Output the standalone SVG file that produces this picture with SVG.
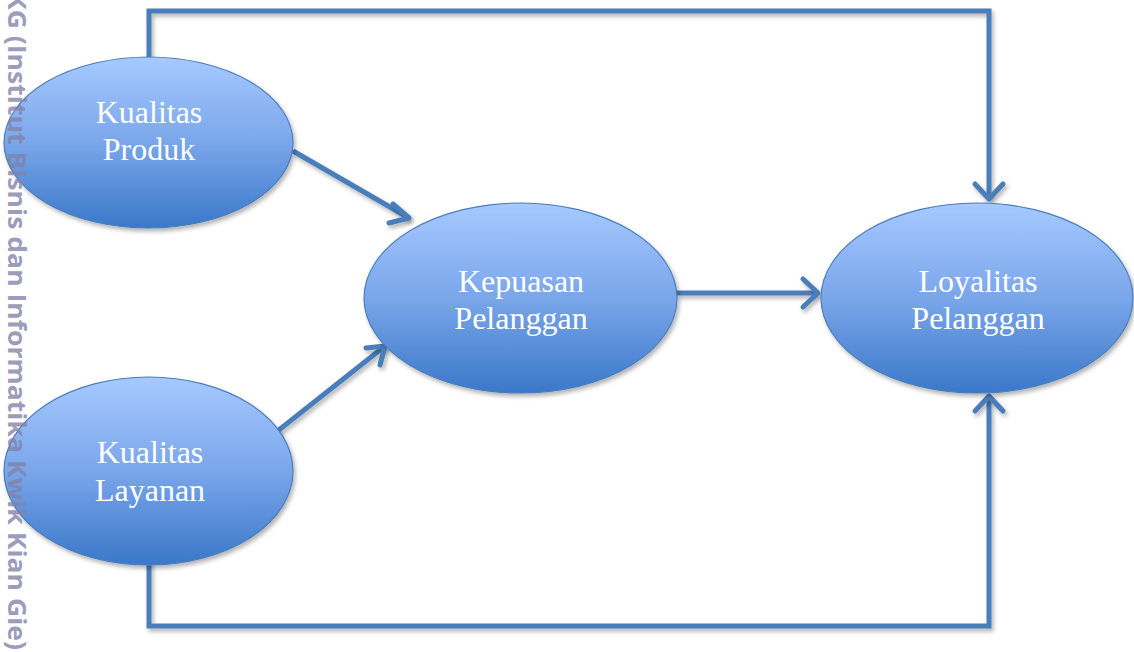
<svg xmlns="http://www.w3.org/2000/svg" width="1134" height="652" viewBox="0 0 1134 652">
<style>
.node ellipse{fill:url(#g);stroke:#4a7ebb;stroke-width:1.2;filter:url(#sh)}
.lbl{font-family:"Liberation Serif","DejaVu Serif",serif;font-size:32px;fill:#ffffff;text-anchor:middle}
.con{fill:none;stroke:#4a7ebb;stroke-width:5;filter:url(#sh)}
.head{stroke-linecap:round;stroke-linejoin:round}
.wm{font-family:"Open Sans","DejaVu Sans",sans-serif;font-weight:bold;font-size:25px;fill:#8282a8;fill-opacity:0.8}
</style>
<defs>
<linearGradient id="g" x1="0" y1="0" x2="0" y2="1">
<stop offset="0" stop-color="#a6c9ff"/>
<stop offset="0.5" stop-color="#7aa6ea"/>
<stop offset="1" stop-color="#3a78c9"/>
</linearGradient>
<filter id="sh" filterUnits="userSpaceOnUse" x="-20" y="-20" width="1180" height="700">
<feDropShadow dx="2" dy="3" stdDeviation="2" flood-color="#000" flood-opacity="0.3"/>
</filter>
</defs>
<g id="connectors">
<path class="con" d="M149,58 V11 H989 V198"/>
<path class="con head" d="M975,184 L989,199 L1003,184"/>
<path class="con" d="M149,556 V626 H989 V398"/>
<path class="con head" d="M975,411 L989,396 L1003,411"/>
<path class="con" d="M293,151 L409,218"/>
<path class="con head" d="M393,204 L409,218 L389,223"/>
<path class="con" d="M270,437 L385,346"/>
<path class="con head" d="M366,348 L385,346 L380,365"/>
<path class="con" d="M676,293 H817"/>
<path class="con head" d="M803,279 L818,293 L803,307"/>
</g>
<g id="node-produk" class="node">
<ellipse cx="148.5" cy="142.5" rx="144.5" ry="85.5"/>
<text class="lbl" x="149" y="123">Kualitas</text>
<text class="lbl" x="149" y="160">Produk</text>
</g>
<g id="node-layanan" class="node">
<ellipse cx="148.5" cy="471" rx="144.5" ry="94"/>
<text class="lbl" x="150" y="463">Kualitas</text>
<text class="lbl" x="150" y="501">Layanan</text>
</g>
<g id="node-kepuasan" class="node">
<ellipse cx="520.5" cy="298" rx="156.5" ry="95"/>
<text class="lbl" x="521" y="292">Kepuasan</text>
<text class="lbl" x="521" y="329">Pelanggan</text>
</g>
<g id="node-loyalitas" class="node">
<ellipse cx="977" cy="298" rx="156" ry="95"/>
<text class="lbl" x="978" y="292">Loyalitas</text>
<text class="lbl" x="978" y="329">Pelanggan</text>
</g>
<text class="wm" transform="translate(8,-8) rotate(90)" textLength="658" lengthAdjust="spacingAndGlyphs">KG (Institut Bisnis dan Informatika Kwik Kian Gie)</text>
</svg>
